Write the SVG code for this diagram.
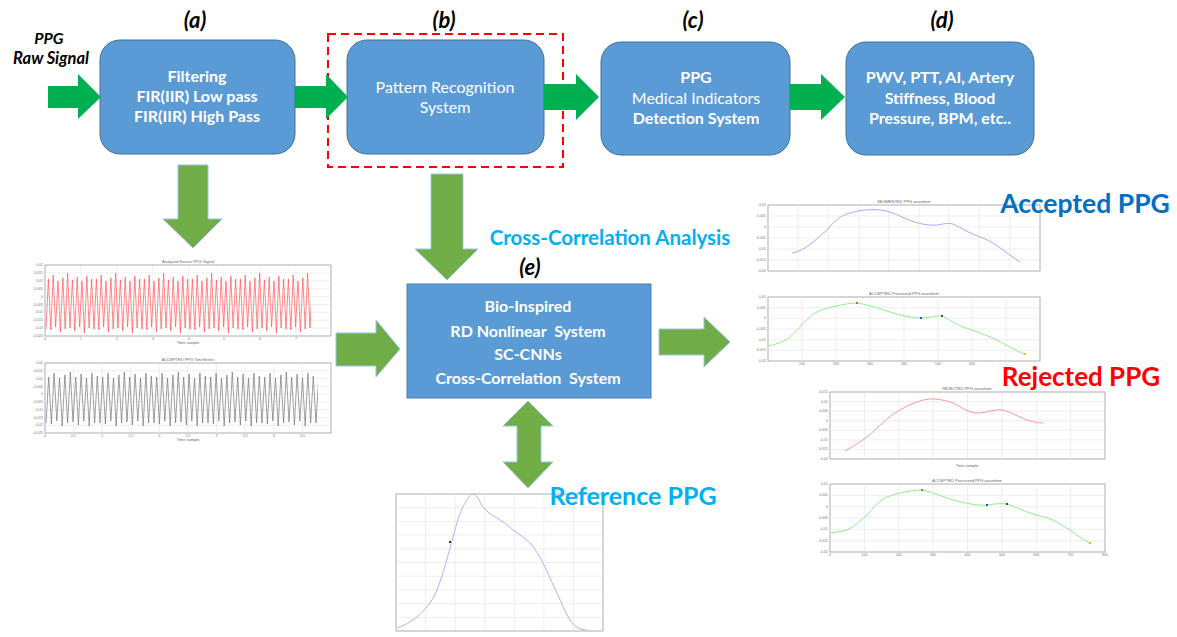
<svg xmlns="http://www.w3.org/2000/svg" width="1177" height="637" viewBox="0 0 1177 637">
<style>
.box{fill:#5b9bd5;stroke:#41719c;stroke-width:1}
.bt{font-family:Lato,"Open Sans","Liberation Sans",sans-serif;font-size:16px;fill:#fff;text-anchor:middle}
.b{font-weight:bold}
.lbl{font-family:Lato,"Open Sans","Liberation Sans",sans-serif;font-size:22px;font-weight:bold;font-style:italic;fill:#000;text-anchor:middle}
.garrow{fill:#00b050}
.oarrow{fill:#70ad47;stroke:#9dc3e6;stroke-width:1}
.frame{fill:#fff;stroke:#999;stroke-width:0.8}
.grid{fill:none;stroke:#e2e2e2;stroke-width:0.6}
.tt{font-family:"Liberation Sans",sans-serif;font-size:4px;fill:#666;text-anchor:middle}
.yt{font-family:"Liberation Sans",sans-serif;font-size:3.6px;fill:#777;text-anchor:end}
.xt{font-family:"Liberation Sans",sans-serif;font-size:3.6px;fill:#777;text-anchor:middle}
.big{font-family:Lato,"Open Sans","Liberation Sans",sans-serif;font-weight:bold}
</style>
<defs>
<path id="redwave" d="M0,26 L2.4,-24 L4.8,27 L7.2,-28 L9.6,24 L12,-22 L14.4,29 L16.8,-25 L19.2,26 L21.6,-30 L24,25 L26.4,-23 L28.8,28 L31.2,-26 L33.6,24 L36,-22 L38.4,30 L40.8,-27 L43.2,25 L45.6,-24 L48,26" fill="none" stroke="#ff5555" stroke-width="0.7"/>
<path id="blackwave" d="M0,24 L2.7,-22 L5.4,25 L8.1,-26 L10.8,22 L13.5,-21 L16.2,27 L18.9,-24 L21.6,24 L24.3,-27 L27,23 L29.7,-22 L32.4,26 L35.1,-25 L37.8,22 L40.5,-21 L43.2,27 L45.9,-26 L48.6,24 L51.3,-23 L54,24" fill="none" stroke="#777" stroke-width="0.7"/>
<clipPath id="clipTop"><rect x="45" y="265" width="266" height="71"/></clipPath>
<clipPath id="clipBot"><rect x="45" y="363" width="273" height="70"/></clipPath>
</defs>

<g id="input-label">
<text class="big" x="49" y="44" font-size="16" font-style="italic" text-anchor="middle">PPG</text>
<text class="big" x="51" y="64" font-size="16.5" font-style="italic" text-anchor="middle">Raw Signal</text>
</g>

<g id="stage-labels">
<text class="lbl" x="195" y="28">(a)</text>
<text class="lbl" x="444" y="28">(b)</text>
<text class="lbl" x="693" y="28">(c)</text>
<text class="lbl" x="942" y="28">(d)</text>
<text class="lbl" x="530" y="275">(e)</text>
</g>

<g id="node-a">
<rect class="box" x="100" y="40" width="195" height="114" rx="20"/>
<text class="bt b" x="197" y="82">Filtering</text>
<text class="bt b" x="197" y="102">FIR(IIR) Low pass</text>
<text class="bt b" x="197" y="122">FIR(IIR) High Pass</text>
</g>

<g id="node-b">
<rect class="box" x="347" y="40" width="197" height="114" rx="20"/>
<text class="bt" x="445" y="93" font-size="16.3">Pattern Recognition</text>
<text class="bt" x="445" y="113" font-size="16.3">System</text>
<rect x="328" y="34" width="235" height="133" fill="none" stroke="#ff0000" stroke-width="2" stroke-dasharray="8,5"/>
</g>

<g id="node-c">
<rect class="box" x="601" y="42" width="189" height="113" rx="20"/>
<text class="bt b" x="696" y="83">PPG</text>
<text class="bt" x="696" y="104">Medical Indicators</text>
<text class="bt b" x="696" y="124">Detection System</text>
</g>

<g id="node-d">
<rect class="box" x="846" y="42" width="188" height="113" rx="20"/>
<text class="bt b" x="940" y="83">PWV, PTT, AI, Artery</text>
<text class="bt b" x="940" y="104">Stiffness, Blood</text>
<text class="bt b" x="940" y="124">Pressure, BPM, etc..</text>
</g>

<g id="node-e">
<rect x="407" y="284" width="244" height="114" fill="#5b9bd5" stroke="#4a7ebb" stroke-width="1"/>
<text class="bt b" x="528" y="312" font-size="19.5">Bio-Inspired</text>
<text class="bt b" x="528" y="337" font-size="19.5" xml:space="preserve">RD Nonlinear  System</text>
<text class="bt b" x="528" y="360" font-size="19.5">SC-CNNs</text>
<text class="bt b" x="528" y="384" font-size="19.5" xml:space="preserve">Cross-Correlation  System</text>
</g>

<g id="connectors">
<polygon class="garrow" points="48,86 78,86 78,74 101,97 78,119 78,108 48,108"/>
<polygon class="garrow" points="295,86 326,86 326,74 348,97 326,119 326,108 295,108"/>
<polygon class="garrow" points="544,84 576,84 576,74 599,97 576,120 576,110 544,110"/>
<polygon class="garrow" points="790,84 821,84 821,74 845,97 821,120 821,110 790,110"/>
<polygon class="oarrow" points="178,165 208,165 208,219 222,219 193,248 163,219 178,219"/>
<polygon class="oarrow" points="431,174 463,174 463,249 478,249 447,280 415,249 431,249"/>
<polygon class="oarrow" points="336,333 376,333 376,320 400,349 376,377 376,366 336,366"/>
<polygon class="oarrow" points="659,329 704,329 704,317 730,342 704,367 704,355 659,355"/>
<polygon class="oarrow" points="528,401 553,426 541,426 541,462 553,462 528,488 503,462 517,462 517,426 503,426"/>
</g>

<g id="plot-source">
<rect class="frame" x="45" y="265" width="286" height="71"/>
<path class="grid" d="M81,265V336M117,265V336M153,265V336M189,265V336M224,265V336M260,265V336M296,265V336M45,272.9H331M45,280.8H331M45,288.7H331M45,296.6H331M45,304.5H331M45,312.3H331M45,320.2H331M45,328.1H331"/>
<g clip-path="url(#clipTop)">
<use href="#redwave" transform="translate(46,303)"/>
<use href="#redwave" transform="translate(94,303)"/>
<use href="#redwave" transform="translate(142,303)"/>
<use href="#redwave" transform="translate(190,303)"/>
<use href="#redwave" transform="translate(238,303)"/>
<use href="#redwave" transform="translate(286,303)"/>
</g>
<text class="tt" x="188" y="263">Analyzed Source PPG Signal</text>
<text class="tt" x="188" y="344">Time sample</text>
<text class="yt" x="43" y="266">0.02</text><text class="yt" x="43" y="274">0.015</text><text class="yt" x="43" y="282">0.01</text><text class="yt" x="43" y="290">0.005</text><text class="yt" x="43" y="298">0</text><text class="yt" x="43" y="306">-0.005</text><text class="yt" x="43" y="313">-0.01</text><text class="yt" x="43" y="321">-0.015</text><text class="yt" x="43" y="329">-0.02</text><text class="yt" x="43" y="337">-0.025</text>
<text class="xt" x="45" y="340">0</text><text class="xt" x="81" y="340">1</text><text class="xt" x="117" y="340">2</text><text class="xt" x="153" y="340">3</text><text class="xt" x="189" y="340">4</text><text class="xt" x="224" y="340">5</text><text class="xt" x="260" y="340">6</text><text class="xt" x="296" y="340">7</text>
</g>

<g id="plot-accepted-series">
<rect class="frame" x="45" y="363" width="286" height="70"/>
<path class="grid" d="M73.6,363V433M102.2,363V433M130.8,363V433M159.4,363V433M188,363V433M216.6,363V433M245.2,363V433M273.8,363V433M302.4,363V433M45,370.8H331M45,378.6H331M45,386.3H331M45,394.1H331M45,401.9H331M45,409.7H331M45,417.4H331M45,425.2H331"/>
<g clip-path="url(#clipBot)">
<use href="#blackwave" transform="translate(46,399)"/>
<use href="#blackwave" transform="translate(100,399)"/>
<use href="#blackwave" transform="translate(154,399)"/>
<use href="#blackwave" transform="translate(208,399)"/>
<use href="#blackwave" transform="translate(262,399)"/>
<use href="#blackwave" transform="translate(316,399)"/>
</g>
<text class="tt" x="188" y="361">ACCEPTED PPG TimeSeries</text>
<text class="tt" x="188" y="441">Time sample</text>
<text class="yt" x="43" y="364">0.02</text><text class="yt" x="43" y="372">0.015</text><text class="yt" x="43" y="380">0.01</text><text class="yt" x="43" y="388">0.005</text><text class="yt" x="43" y="395">0</text><text class="yt" x="43" y="403">-0.005</text><text class="yt" x="43" y="411">-0.01</text><text class="yt" x="43" y="419">-0.015</text><text class="yt" x="43" y="426">-0.02</text><text class="yt" x="43" y="434">-0.025</text>
<text class="xt" x="45" y="437">0</text><text class="xt" x="73.6" y="437">0.5</text><text class="xt" x="102.2" y="437">1</text><text class="xt" x="130.8" y="437">1.5</text><text class="xt" x="159.4" y="437">2</text><text class="xt" x="188" y="437">2.5</text><text class="xt" x="216.6" y="437">3</text><text class="xt" x="245.2" y="437">3.5</text><text class="xt" x="273.8" y="437">4</text><text class="xt" x="302.4" y="437">4.5</text>
</g>

<g id="plot-segmented">
<rect class="frame" x="768" y="205" width="272" height="66"/>
<path class="grid" d="M798,205V271M828,205V271M859,205V271M889,205V271M919,205V271M949,205V271M979,205V271M1010,205V271M768,216H1040M768,227H1040M768,238H1040M768,249H1040M768,260H1040"/>
<path d="M792,253 C805,251 815,240 827,230 C835,220 842,215 850,213 C862,209 880,208 893,213 C905,218 915,224 930,225 C940,226 945,222 953,224 C962,228 970,234 983,238 C995,243 1005,252 1020,262" fill="none" stroke="#a8a8ff" stroke-width="1"/>
<text class="tt" x="904" y="203">SEGMENTED PPG waveform</text>
<text class="yt" x="766" y="206">0.01</text><text class="yt" x="766" y="217">0.005</text><text class="yt" x="766" y="228">0</text><text class="yt" x="766" y="239">-0.005</text><text class="yt" x="766" y="250">-0.01</text><text class="yt" x="766" y="261">-0.015</text><text class="yt" x="766" y="272">-0.02</text>
</g>

<g id="plot-accepted-processed">
<rect class="frame" x="768" y="297" width="272" height="64"/>
<path class="grid" d="M802,297V361M836,297V361M870,297V361M904,297V361M938,297V361M972,297V361M1006,297V361M768,307.7H1040M768,318.3H1040M768,329H1040M768,339.7H1040M768,350.3H1040"/>
<path d="M768,346 C778,344 785,341 790,337 C800,328 808,316 817,312 C825,308 832,307 837,306 C845,304 851,303 857,303 C870,305 880,309 890,312 C900,315 910,318 921,318 C930,318 936,315 942,316 C950,320 955,324 963,327 C975,331 983,334 990,337 C998,340 1004,344 1010,347 C1016,350 1020,353 1025,354" fill="none" stroke="#90ee90" stroke-width="1"/>
<rect x="856" y="302" width="2" height="2" fill="#e06020"/>
<rect x="920" y="317" width="2" height="2" fill="#3050d0"/>
<rect x="941" y="315" width="2" height="2" fill="#306030"/>
<rect x="1024" y="353" width="2" height="2" fill="#d0d020"/>
<text class="tt" x="904" y="295">ACCEPTED Processed PPG waveform</text>
<text class="yt" x="766" y="298">0.01</text><text class="yt" x="766" y="309">0.005</text><text class="yt" x="766" y="319">0</text><text class="yt" x="766" y="330">-0.005</text><text class="yt" x="766" y="341">-0.01</text><text class="yt" x="766" y="351">-0.015</text><text class="yt" x="766" y="362">-0.02</text>
<text class="xt" x="802" y="365">100</text><text class="xt" x="836" y="365">200</text><text class="xt" x="870" y="365">300</text><text class="xt" x="904" y="365">400</text><text class="xt" x="938" y="365">500</text><text class="xt" x="972" y="365">600</text>
</g>

<g id="plot-rejected">
<rect class="frame" x="830" y="392" width="275" height="67"/>
<path class="grid" d="M864.4,392V459M898.8,392V459M933.1,392V459M967.5,392V459M1001.9,392V459M1036.3,392V459M1070.6,392V459M830,401.6H1105M830,411.1H1105M830,420.7H1105M830,430.3H1105M830,439.9H1105M830,449.4H1105"/>
<path d="M845,451 C852,447 860,442 867,437 C878,428 888,416 900,410 C912,403 925,398 935,399 C943,400 948,401 953,403 C962,408 970,413 978,413 C986,413 994,409 1002,410 C1012,412 1018,417 1027,420 C1033,422 1038,423 1043,423" fill="none" stroke="#ff9999" stroke-width="1"/>
<text class="tt" x="967" y="390">REJECTED PPG waveform</text>
<text class="tt" x="967" y="467">Time sample</text>
<text class="yt" x="828" y="393">0.015</text><text class="yt" x="828" y="403">0.01</text><text class="yt" x="828" y="412">0.005</text><text class="yt" x="828" y="422">0</text><text class="yt" x="828" y="431">-0.005</text><text class="yt" x="828" y="441">-0.01</text><text class="yt" x="828" y="450">-0.015</text><text class="yt" x="828" y="460">-0.02</text>
</g>

<g id="plot-processed-2">
<rect class="frame" x="830" y="484" width="275" height="68"/>
<path class="grid" d="M864.4,484V552M898.8,484V552M933.1,484V552M967.5,484V552M1001.9,484V552M1036.3,484V552M1070.6,484V552M830,495.3H1105M830,506.7H1105M830,518H1105M830,529.3H1105M830,540.7H1105"/>
<path d="M831,533 C838,532 843,531 847,530 C855,526 860,521 867,515 C874,507 880,500 887,497 C892,495 896,494 900,493 C908,491 915,490 922,490 C933,492 943,497 953,500 C965,503 977,506 987,505 C995,504 1000,503 1007,504 C1015,507 1022,510 1030,513 C1038,516 1046,517 1053,520 C1060,524 1065,527 1070,530 C1077,535 1083,540 1090,543" fill="none" stroke="#90ee90" stroke-width="1"/>
<rect x="921" y="489" width="2" height="2" fill="#e06020"/>
<rect x="986" y="504" width="2" height="2" fill="#3050d0"/>
<rect x="1006" y="503" width="2" height="2" fill="#306030"/>
<rect x="1089" y="542" width="2" height="2" fill="#d0d020"/>
<text class="tt" x="967" y="482">ACCEPTED Processed PPG waveform</text>
<text class="yt" x="828" y="485">0.01</text><text class="yt" x="828" y="496">0.005</text><text class="yt" x="828" y="508">0</text><text class="yt" x="828" y="519">-0.005</text><text class="yt" x="828" y="530">-0.01</text><text class="yt" x="828" y="542">-0.015</text><text class="yt" x="828" y="553">-0.02</text>
<text class="xt" x="830" y="556">0</text><text class="xt" x="864.4" y="556">100</text><text class="xt" x="898.8" y="556">200</text><text class="xt" x="933.1" y="556">300</text><text class="xt" x="967.5" y="556">400</text><text class="xt" x="1001.9" y="556">500</text><text class="xt" x="1036.3" y="556">600</text><text class="xt" x="1070.6" y="556">700</text><text class="xt" x="1105" y="556">800</text>
</g>

<g id="plot-reference">
<rect class="frame" x="396" y="494" width="207" height="137"/>
<path class="grid" d="M425.6,494V631M455.1,494V631M484.7,494V631M514.3,494V631M543.9,494V631M573.4,494V631M396,507.7H603M396,521.4H603M396,535.1H603M396,548.8H603M396,562.5H603M396,576.2H603M396,589.9H603M396,603.6H603M396,617.3H603"/>
<path d="M397,628 C405,625 411,622 417,617 C425,610 432,602 437,590 C443,575 448,555 453,537 C457,522 460,512 463,507 C467,499 470,494 473,494 C477,494 480,503 483,507 C487,512 492,515 497,518 C503,522 508,525 513,530 C520,535 525,538 530,543 C535,549 539,555 543,563 C548,573 553,585 557,593 C561,602 565,612 570,620 C575,627 580,630 587,630" fill="none" stroke="#b0b0ff" stroke-width="1"/>
<rect x="449" y="541" width="2" height="2" fill="#333"/>
</g>

<g id="annotations">
<text class="big" x="610" y="245" font-size="20.5" fill="#00b0f0" text-anchor="middle">Cross-Correlation Analysis</text>
<text class="big" x="1085" y="213" font-size="26.5" fill="#0070c0" text-anchor="middle">Accepted PPG</text>
<text class="big" x="1081" y="386" font-size="26" fill="#ff0000" text-anchor="middle">Rejected PPG</text>
<text class="big" x="633" y="505" font-size="25" fill="#00b0f0" text-anchor="middle">Reference PPG</text>
</g>
</svg>
